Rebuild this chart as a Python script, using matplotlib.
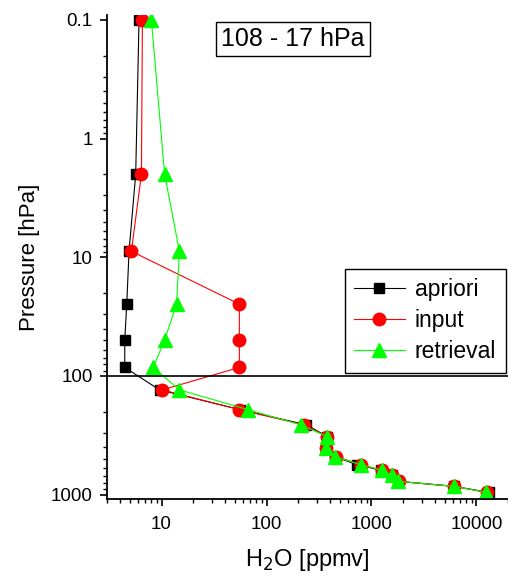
import matplotlib.pyplot as plt
from matplotlib.ticker import LogLocator, NullFormatter

plt.rcParams['font.family'] = ['Liberation Sans', 'DejaVu Sans']

# Pressure levels [hPa]
pressure = [0.1, 2.0, 8.9, 24.8, 49.8, 84.7, 131, 192, 258, 325, 402, 479,
            559, 624, 688, 773, 851, 957]

# H2O [ppmv]
apriori = [6.1, 5.67, 4.9, 4.66, 4.46, 4.46, 9.57, 56, 240, 381, 371, 445,
           734, 1230, 1564, 1806, 6085, 13070]
input_prof = [6.57, 6.43, 5.16, 55.1, 55.1, 55.1, 10.15, 55, 226, 381, 371, 461,
              800, 1265, 1570, 1830, 6085, 12500]
retrieval = [8.0, 10.7, 14.8, 13.9, 10.7, 8.34, 14.8, 66.2, 212, 381, 371, 445,
             795, 1255, 1564, 1806, 6085, 12400]

fig = plt.figure(figsize=(5.08, 5.81), dpi=100)
ax = fig.add_axes([0.210, 0.141, 0.79, 0.833])

ax.plot(apriori, pressure, '-s', color='black', lw=0.8, ms=7, label='apriori')
ax.plot(input_prof, pressure, '-o', color='red', lw=0.8, ms=9, label='input')
ax.plot(retrieval, pressure, '-^', color='#00ff00', lw=0.8, ms=10, label='retrieval')

ax.axhline(100, color='black', lw=1.2)

ax.set_xscale('log')
ax.set_yscale('log')
ax.set_xlim(3, 20000)
ax.set_ylim(1090, 0.091)

ax.set_xticks([10, 100, 1000, 10000])
ax.set_xticklabels(['10', '100', '1000', '10000'])
ax.set_yticks([0.1, 1, 10, 100, 1000])
ax.set_yticklabels(['0.1', '1', '10', '100', '1000'])
for axis in (ax.xaxis, ax.yaxis):
    axis.set_minor_locator(LogLocator(base=10, subs=range(2, 10), numticks=20))
    axis.set_minor_formatter(NullFormatter())

ax.spines['top'].set_visible(False)
ax.spines['right'].set_visible(False)
ax.spines['left'].set_linewidth(1.3)
ax.spines['bottom'].set_linewidth(1.3)
ax.tick_params(which='major', direction='out', length=5, width=1.2, labelsize=13.5)
ax.tick_params(axis='x', which='major', pad=7)
ax.tick_params(axis='y', which='major', pad=5)
ax.tick_params(which='minor', direction='out', length=3, width=1.0)

ax.set_xlabel('H$_2$O [ppmv]', fontsize=17, labelpad=10)
ax.set_ylabel('Pressure [hPa]', fontsize=16, labelpad=8)

ax.text(0.464, 0.951, '108 - 17 hPa', transform=ax.transAxes, fontsize=18,
        ha='center', va='center',
        bbox=dict(boxstyle='square,pad=0.2', fc='white', ec='black', lw=1.0))

leg = ax.legend(loc='upper left', bbox_to_anchor=(0.594, 0.475), fontsize=16.5,
                fancybox=False, framealpha=1, edgecolor='black',
                handlelength=2.2, handletextpad=0.45, borderpad=0.4,
                labelspacing=0.35, borderaxespad=0)
leg.get_frame().set_linewidth(1.0)

fig.savefig('out.png', dpi=100)
